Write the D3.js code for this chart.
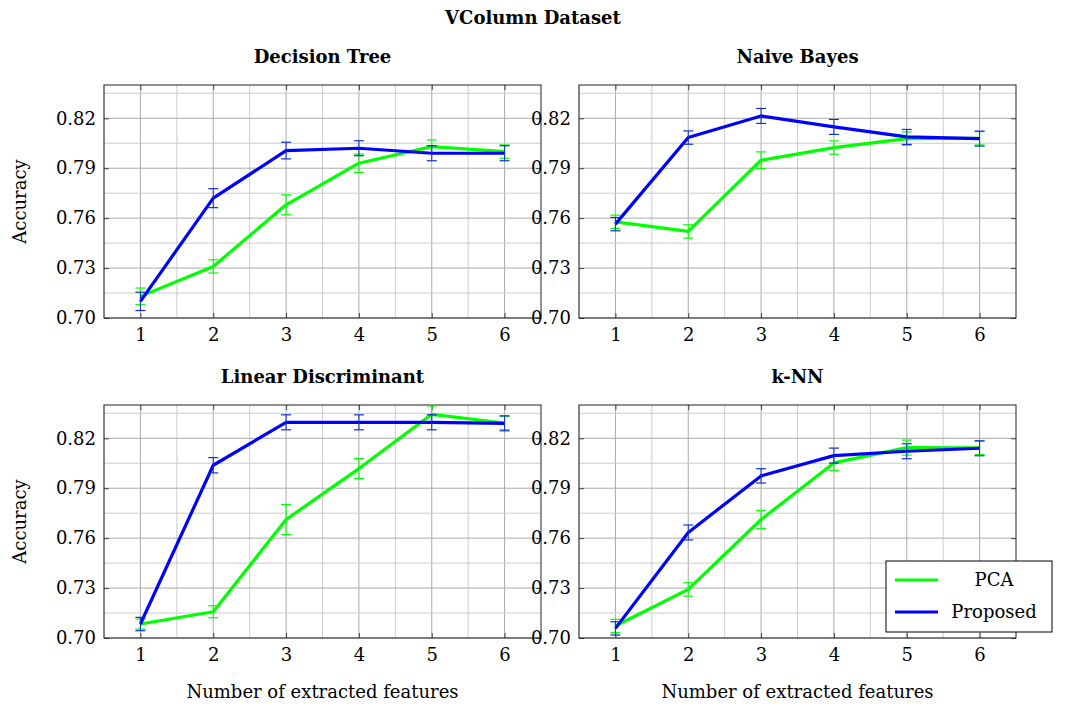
<!DOCTYPE html>
<meta charset="utf-8">
<style>
body { margin: 0; background: #fff; }
svg text { font-family: "DejaVu Serif", serif !important; fill: #000; }
</style>
<script src="https://cdn.jsdelivr.net/npm/d3@7"></script>
<body>
<script>
var features = [1, 2, 3, 4, 5, 6];
var yTicks = [0.70, 0.73, 0.76, 0.79, 0.82];

// mean accuracy and error (half-width) per panel
var dtPca = [0.713, 0.731, 0.768, 0.793, 0.803, 0.800];
var dtPcaErr = [0.005, 0.004, 0.006, 0.0055, 0.004, 0.004];
var dtProp = [0.710, 0.772, 0.8006, 0.802, 0.799, 0.799];
var dtPropErr = [0.0055, 0.0057, 0.005, 0.0045, 0.0045, 0.0045];

var nbPca = [0.7578, 0.752, 0.7948, 0.8024, 0.8078, 0.808];
var nbPcaErr = [0.004, 0.004, 0.005, 0.004, 0.004, 0.004];
var nbProp = [0.7564, 0.8084, 0.8214, 0.8148, 0.8088, 0.8078];
var nbPropErr = [0.004, 0.004, 0.0045, 0.0045, 0.0045, 0.0045];

var ldPca = [0.7084, 0.7158, 0.7712, 0.8018, 0.8344, 0.8292];
var ldPcaErr = [0.003, 0.0036, 0.009, 0.006, 0.005, 0.004];
var ldProp = [0.7084, 0.8038, 0.8296, 0.8296, 0.8296, 0.829];
var ldPropErr = [0.004, 0.0046, 0.0045, 0.0045, 0.0045, 0.0045];

var knnPca = [0.7072, 0.7292, 0.7712, 0.8052, 0.8144, 0.8142];
var knnPcaErr = [0.004, 0.004, 0.0055, 0.0045, 0.0045, 0.004];
var knnProp = [0.7058, 0.7634, 0.7974, 0.8096, 0.8122, 0.814];
var knnPropErr = [0.004, 0.0045, 0.0043, 0.0045, 0.0045, 0.0045];

var panels = [
  {title: "Decision Tree", pca: dtPca, pcaErr: dtPcaErr, prop: dtProp, propErr: dtPropErr, x: 104, y: 85, ylab: true, xlab: false},
  {title: "Naive Bayes", pca: nbPca, pcaErr: nbPcaErr, prop: nbProp, propErr: nbPropErr, x: 579, y: 85, ylab: false, xlab: false},
  {title: "Linear Discriminant", pca: ldPca, pcaErr: ldPcaErr, prop: ldProp, propErr: ldPropErr, x: 104, y: 405, ylab: true, xlab: true},
  {title: "k-NN", pca: knnPca, pcaErr: knnPcaErr, prop: knnProp, propErr: knnPropErr, x: 579, y: 405, ylab: false, xlab: true, legend: true}
];

var W = 437, H = 233;
var green = "#00ff00", blue = "#0000ff";
var FS = 18;

var svg = d3.select("body").append("svg").attr("width", 1067).attr("height", 707);

svg.append("text").attr("x", 533).attr("y", 24).attr("text-anchor", "middle")
  .attr("font-weight", "bold").attr("font-size", FS).text("VColumn Dataset");

var x = d3.scaleLinear().domain([0.5, 6.5]).range([0, W]);
var y = d3.scaleLinear().domain([0.70, 0.84]).range([H, 0]);

panels.forEach(function(p) {
  var g = svg.append("g").attr("transform", "translate(" + p.x + "," + p.y + ")");

  // grid: major + minor
  var gx = d3.range(1, 13).map(function(i) { return i / 2; });
  var gy = d3.range(0, 10).map(function(i) { return 0.70 + i * 0.015; });
  g.selectAll(".vg").data(gx).join("line")
    .attr("x1", function(d) { return x(d); }).attr("x2", function(d) { return x(d); })
    .attr("y1", 0).attr("y2", H)
    .attr("stroke", function(d) { return d % 1 === 0 ? "#aaa" : "#ccc"; }).attr("stroke-width", 1);
  g.selectAll(".hg").data(gy).join("line")
    .attr("x1", 0).attr("x2", W)
    .attr("y1", function(d) { return y(d); }).attr("y2", function(d) { return y(d); })
    .attr("stroke", function(d, i) { return i % 2 === 0 ? "#aaa" : "#ccc"; }).attr("stroke-width", 1);

  // axes
  g.append("g").attr("transform", "translate(0," + H + ")")
    .call(d3.axisBottom(x).tickValues(features).tickSize(-5).tickPadding(10).tickFormat(d3.format("d")));
  g.append("g")
    .call(d3.axisLeft(y).tickValues(yTicks).tickSize(-5).tickPadding(8).tickFormat(d3.format(".2f")));
  g.append("g").call(d3.axisTop(x).tickValues(features).tickSize(-5).tickFormat(""));
  g.append("g").attr("transform", "translate(" + W + ",0)")
    .call(d3.axisRight(y).tickValues(yTicks).tickSize(-5).tickFormat(""));
  g.selectAll(".domain").remove();
  g.selectAll(".tick line").attr("stroke", "#444");
  g.selectAll(".tick text").attr("font-size", FS);
  g.append("rect").attr("width", W).attr("height", H).attr("fill", "none").attr("stroke", "#222").attr("stroke-width", 1);

  var line = d3.line().x(function(d, i) { return x(features[i]); }).y(function(d) { return y(d); });

  [[p.pca, p.pcaErr, green, green], [p.prop, p.propErr, blue, "#1030c8"]].forEach(function(s) {
    g.append("path").datum(s[0]).attr("d", line).attr("fill", "none")
      .attr("stroke", s[2]).attr("stroke-width", 3.2).attr("stroke-linejoin", "round");
    var eb = g.append("g");
    s[0].forEach(function(v, i) {
      var cx = x(features[i]), lo = y(v - s[1][i]), hi = y(v + s[1][i]);
      eb.append("line").attr("x1", cx).attr("x2", cx).attr("y1", lo).attr("y2", hi).attr("stroke", s[3]).attr("stroke-width", 1);
      [lo, hi].forEach(function(yy) {
        eb.append("line").attr("x1", cx - 5).attr("x2", cx + 5).attr("y1", yy).attr("y2", yy).attr("stroke", s[3]).attr("stroke-width", 1.2);
      });
    });
  });

  g.append("text").attr("x", W / 2).attr("y", -22).attr("text-anchor", "middle")
    .attr("font-weight", "bold").attr("font-size", FS).text(p.title);
  if (p.ylab) {
    g.append("text").attr("transform", "translate(-78," + (H / 2) + ") rotate(-90)")
      .attr("text-anchor", "middle").attr("font-size", FS).text("Accuracy");
  }
  if (p.xlab) {
    g.append("text").attr("x", W / 2).attr("y", H + 60).attr("text-anchor", "middle")
      .attr("font-size", FS).text("Number of extracted features");
  }
  if (p.legend) {
    var lg = g.append("g").attr("transform", "translate(" + (886 - p.x) + "," + (561 - p.y) + ")");
    lg.append("rect").attr("width", 166).attr("height", 71).attr("fill", "#fff").attr("stroke", "#000");
    [["PCA", green], ["Proposed", blue]].forEach(function(e, i) {
      var yy = 19 + i * 32;
      lg.append("line").attr("x1", 9).attr("x2", 52).attr("y1", yy).attr("y2", yy).attr("stroke", e[1]).attr("stroke-width", 3.2);
      lg.append("text").attr("x", 108).attr("y", yy + 6).attr("text-anchor", "middle").attr("font-size", FS).text(e[0]);
    });
  }
});
</script>
</body>
